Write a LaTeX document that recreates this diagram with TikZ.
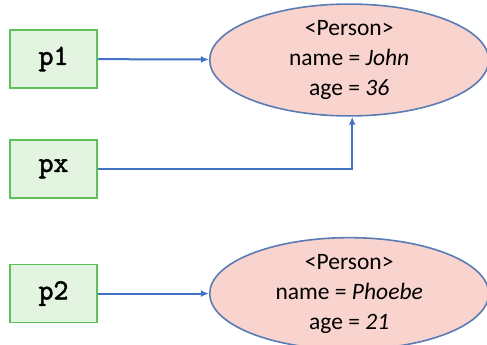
\documentclass[tikz,border=0pt]{standalone}
\usepackage{fontspec}
\setmainfont{Carlito}
\newfontfamily\refmono{Latin Modern Mono}[AutoFakeBold=2]
\usepackage{xcolor}
\usetikzlibrary{positioning, arrows.meta, shapes.geometric}

\definecolor{varfill}{HTML}{E3F5E0}
\definecolor{varline}{HTML}{5DC25A}
\definecolor{objfill}{HTML}{F9D3CD}
\definecolor{objline}{HTML}{5A7BB3}
\definecolor{refblue}{HTML}{4472C4}

\begin{document}
\begin{tikzpicture}[x=1pt, y=1pt, node distance=50pt and 111pt]

			% Define styles
			\tikzset{
				var/.style={
					rectangle, draw=varline, fill=varfill, line width=1.8pt,
					minimum width=87pt, minimum height=58pt,
					font=\refmono\bfseries\fontsize{29}{29}\selectfont
				},
				obj/.style={
					ellipse, draw=objline, fill=objfill, line width=1.6pt,
					minimum width=279pt, minimum height=111pt, inner sep=0pt,
					align=center, font=\fontsize{23.5}{30}\selectfont
				},
				arrow/.style={line width=2pt, draw=refblue, -{Latex[length=8pt, width=7pt]}}
			}

			\useasboundingbox (0,0) rectangle (487,345);

			% Reference variables
			\node (p1) [var] at (53.5,286) {p1};
			\node (px) [var, below=of p1] {px};
			\node (p2) [var, below=65pt of px] {p2};

			% Objects
			\node (john)   [obj, right=of p1, yshift=-1pt] {<Person>\\name = \textit{John}\\age = \textit{36}};
			\node (phoebe) [obj, right=of p2] {<Person>\\name = \textit{Phoebe}\\age = \textit{21}};

			% Arrows
			\draw[arrow] (p1) -- (john);
			\draw[arrow] (px.east) -| ([xshift=3pt]john.south);
			\draw[arrow] (p2) -- (phoebe);

		\end{tikzpicture}
\end{document}
